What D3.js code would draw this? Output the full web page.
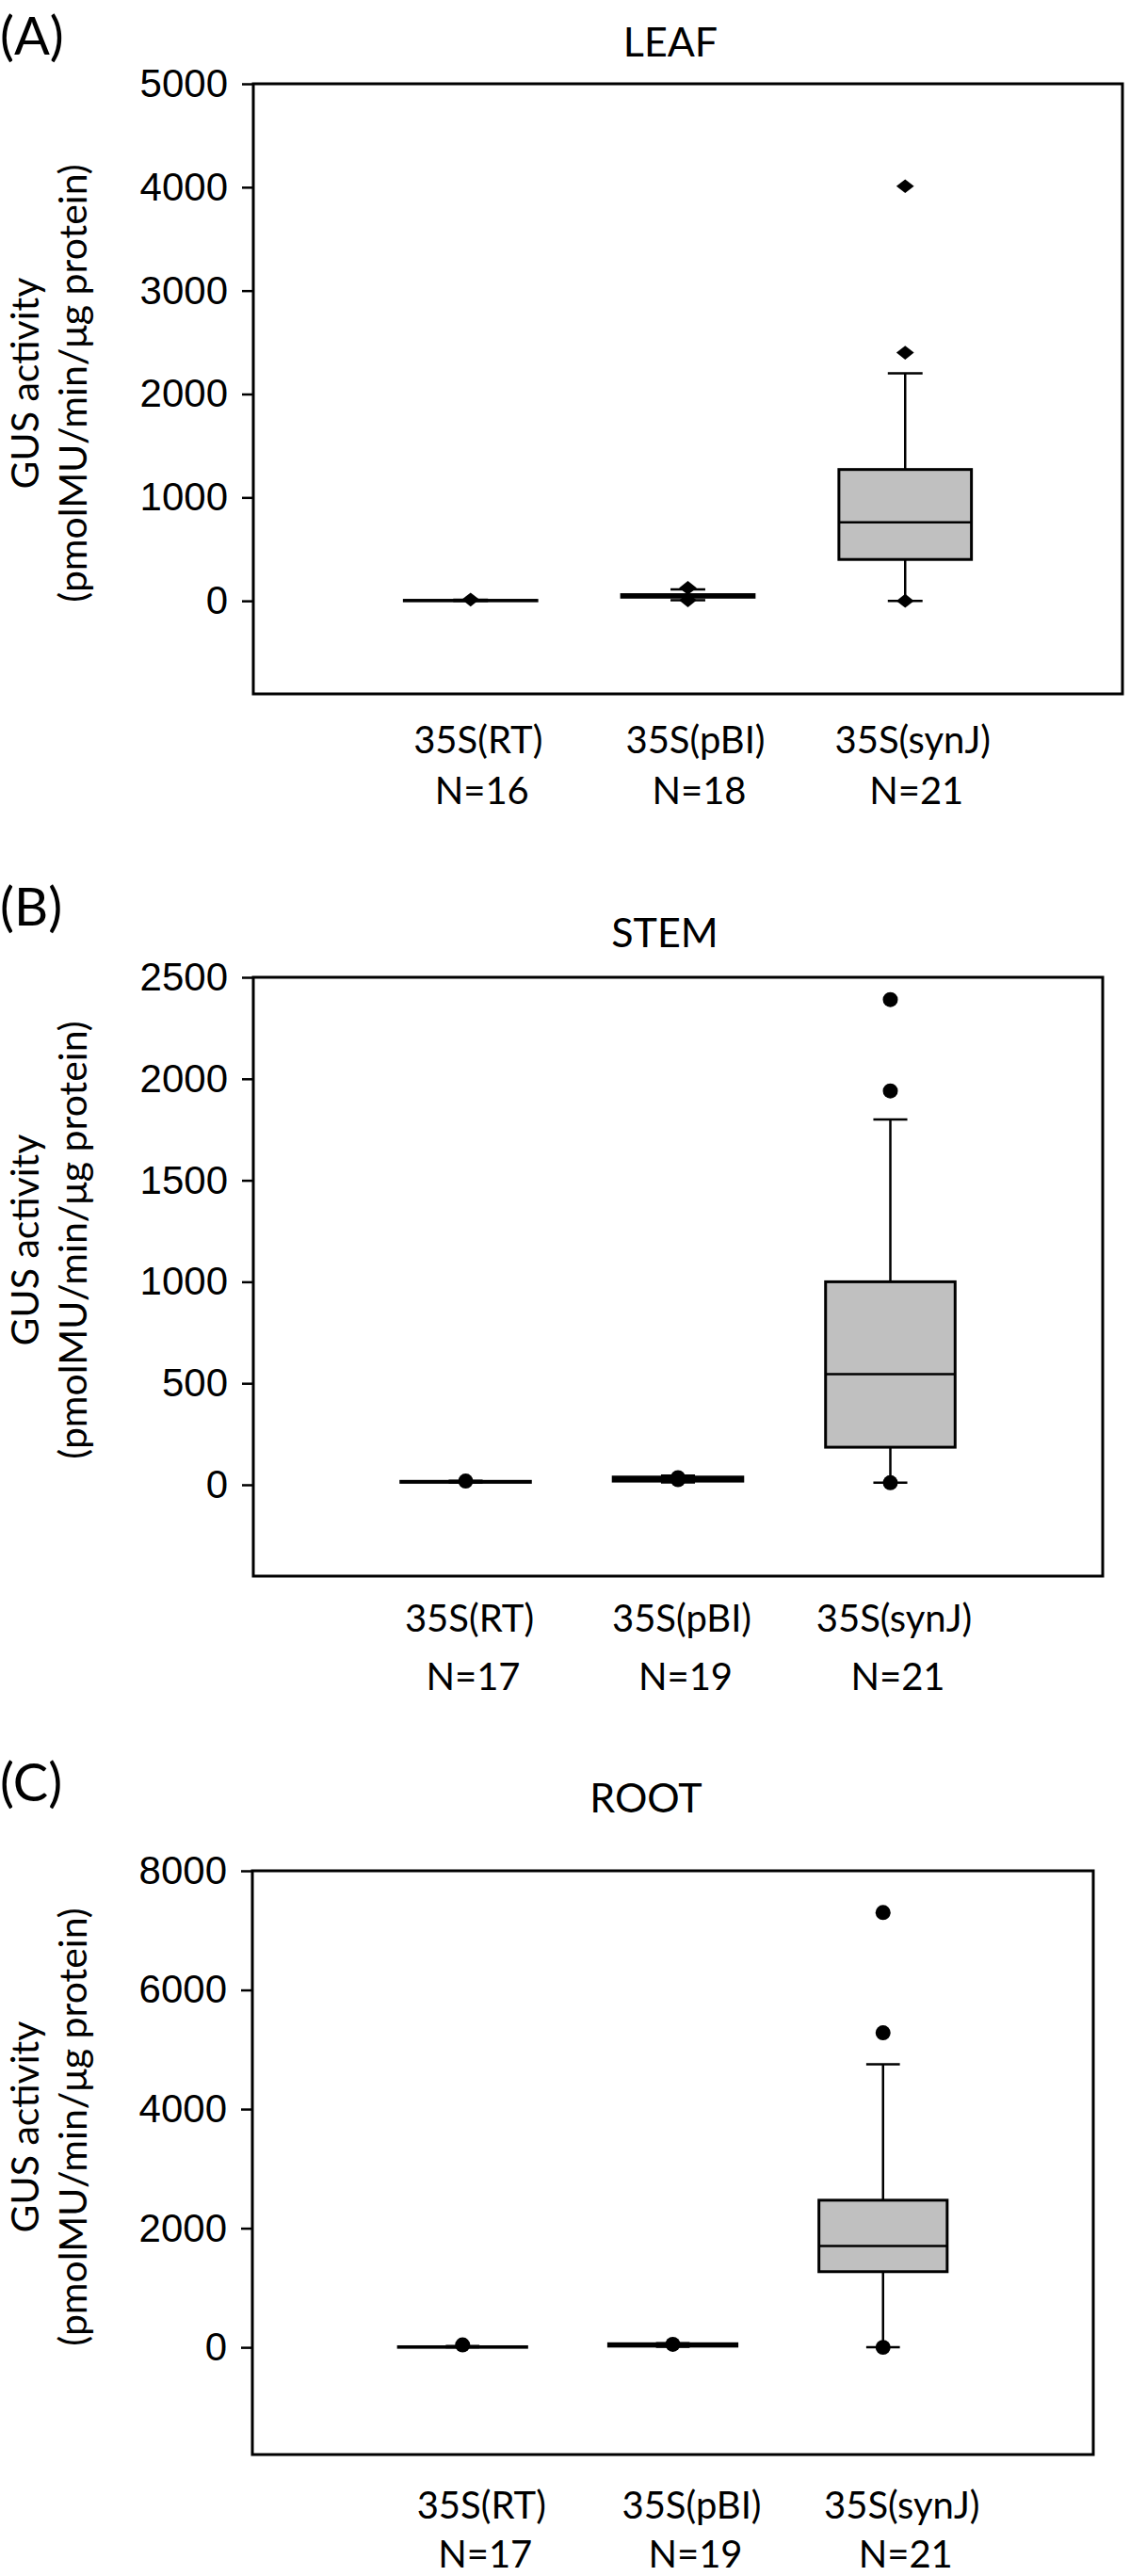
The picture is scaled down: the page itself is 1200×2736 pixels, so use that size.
<!DOCTYPE html>
<html><head><meta charset="utf-8">
<script src="https://cdn.jsdelivr.net/npm/d3@7"></script>
<style>body{margin:0;background:#fff}</style>
</head><body><svg id="chart" width="1200" height="2736"></svg>
<script>
// ---------------- data ----------------
const panelLetters = ["(A)", "(B)", "(C)"];
const tissues = ["LEAF", "STEM", "ROOT"];
const constructs = ["35S(RT)", "35S(pBI)", "35S(synJ)"];
const sampleSizes = [[16, 18, 21], [17, 19, 21], [17, 19, 21]];
const yLabelLine1 = "GUS activity";
const yLabelLine2 = "(pmolMU/min/μg protein)";

const leafTicks = [0, 1000, 2000, 3000, 4000, 5000];
const stemTicks = [0, 500, 1000, 1500, 2000, 2500];
const rootTicks = [0, 2000, 4000, 6000, 8000];
const leafDomain = [-900, 5000];
const stemDomain = [-450, 2500];
const rootDomain = [-1800, 8000];

// [lower whisker, Q1, median, Q3, upper whisker] per construct
const leafBoxes = [[0, 0, 3, 5, 10], [5, 35, 48, 60, 110], [0, 400, 760, 1270, 2200]];
const stemBoxes = [[10, 12, 15, 17, 20], [12, 18, 28, 38, 45], [10, 185, 545, 1000, 1800]];
const rootBoxes = [[0, 0, 5, 10, 20], [10, 20, 35, 60, 70], [0, 1270, 1700, 2470, 4750]];
const leafOutliers = [[12], [125, 5], [4010, 2400, 0]];
const stemOutliers = [[18], [25, 35], [2390, 1940, 10]];
const rootOutliers = [[40], [50], [7300, 5280, 0]];

// wide diamond marker (as in the reference's leaf panel)
const wideDiamond = {
  draw(context, size) {
    const w = Math.sqrt(size) * 0.72, h = w * 0.78;
    context.moveTo(0, -h); context.lineTo(w, 0); context.lineTo(0, h); context.lineTo(-w, 0); context.closePath();
  }
};

// ---------------- layout ----------------
const panels = [
  {ticks: leafTicks, domain: leafDomain, boxes: leafBoxes, outliers: leafOutliers, marker: wideDiamond, markerSize: 170,
   left: 269, right: 1192, top: 89, bottom: 737, titleX: 712, titleY: 60, letterY: 58, ylabC: 407, lab1: 800, lab2: 854, labDx: 8},
  {ticks: stemTicks, domain: stemDomain, boxes: stemBoxes, outliers: stemOutliers, marker: d3.symbolCircle, markerSize: 200,
   left: 269, right: 1171, top: 1038, bottom: 1674, titleX: 706, titleY: 1006, letterY: 983, ylabC: 1317, lab1: 1733, lab2: 1795, labDx: 4},
  {ticks: rootTicks, domain: rootDomain, boxes: rootBoxes, outliers: rootOutliers, marker: d3.symbolCircle, markerSize: 200,
   left: 268, right: 1161, top: 1987, bottom: 2607, titleX: 686, titleY: 1925, letterY: 1913, ylabC: 2259, lab1: 2675, lab2: 2727, labDx: 20}
];

const svg = d3.select("#chart");
svg.append("rect").attr("width", 1200).attr("height", 2736).attr("fill", "#fff");
const textFont = "Lato, 'Open Sans', sans-serif";
const tickFont = "'Liberation Sans', Arial, sans-serif";

panels.forEach((P, pi) => {
  const g = svg.append("g");
  const y = d3.scaleLinear().domain(P.domain).range([P.bottom, P.top]);
  const x = d3.scaleLinear().domain([0, 4]).range([P.left, P.right]);

  g.append("text").attr("x", 0).attr("y", P.letterY)
    .attr("font-family", textFont).attr("font-size", 56).attr("fill", "#000")
    .text(panelLetters[pi]);
  g.append("text").attr("x", P.titleX).attr("y", P.titleY)
    .attr("text-anchor", "middle").attr("font-family", textFont).attr("font-size", 43).attr("fill", "#000")
    .text(tissues[pi]);

  g.append("text").attr("transform", `translate(41,${P.ylabC}) rotate(-90)`)
    .attr("text-anchor", "middle").attr("font-family", textFont).attr("font-size", 41).attr("fill", "#000")
    .text(yLabelLine1);
  g.append("text").attr("transform", `translate(92,${P.ylabC}) rotate(-90)`)
    .attr("text-anchor", "middle").attr("font-family", textFont).attr("font-size", 41).attr("fill", "#000")
    .text(yLabelLine2);

  const ax = g.append("g").attr("transform", `translate(${P.left},0)`)
    .call(d3.axisLeft(y).tickValues(P.ticks).tickFormat(d3.format("d")).tickSize(12).tickPadding(15).tickSizeOuter(0));
  ax.select(".domain").remove();
  ax.selectAll(".tick line").attr("stroke", "#000").attr("stroke-width", 2.5);
  ax.selectAll(".tick text").attr("font-family", tickFont).attr("font-size", 42).attr("fill", "#000");

  g.append("rect").attr("x", P.left).attr("y", P.top)
    .attr("width", P.right - P.left).attr("height", P.bottom - P.top)
    .attr("fill", "none").attr("stroke", "#000").attr("stroke-width", 3);

  const halfBox = x(0.305) - x(0);
  const halfCap = x(0.08) - x(0);

  P.boxes.forEach((b, i) => {
    const cx = x(i + 1);
    const [lo, q1, med, q3, hi] = b;
    const bg = g.append("g");
    bg.append("line").attr("x1", cx).attr("x2", cx).attr("y1", y(hi)).attr("y2", y(q3))
      .attr("stroke", "#000").attr("stroke-width", 2.5);
    bg.append("line").attr("x1", cx).attr("x2", cx).attr("y1", y(q1)).attr("y2", y(lo))
      .attr("stroke", "#000").attr("stroke-width", 2.5);
    bg.append("line").attr("x1", cx - halfCap).attr("x2", cx + halfCap).attr("y1", y(hi)).attr("y2", y(hi))
      .attr("stroke", "#000").attr("stroke-width", 2.5);
    bg.append("line").attr("x1", cx - halfCap).attr("x2", cx + halfCap).attr("y1", y(lo)).attr("y2", y(lo))
      .attr("stroke", "#000").attr("stroke-width", 2.5);
    bg.append("rect").attr("x", cx - halfBox).attr("width", 2 * halfBox)
      .attr("y", y(q3)).attr("height", y(q1) - y(q3))
      .attr("fill", "#c0c0c0").attr("stroke", "#000").attr("stroke-width", 3);
    bg.append("line").attr("x1", cx - halfBox).attr("x2", cx + halfBox).attr("y1", y(med)).attr("y2", y(med))
      .attr("stroke", "#000").attr("stroke-width", 2.5);
    const sym = d3.symbol().type(P.marker).size(P.markerSize);
    bg.selectAll("path.out").data(P.outliers[i]).join("path").attr("class", "out")
      .attr("transform", d => `translate(${cx},${y(d)})`).attr("d", sym()).attr("fill", "#000");

    g.append("text").attr("x", cx + P.labDx).attr("y", P.lab1).attr("text-anchor", "middle")
      .attr("font-family", textFont).attr("font-size", 40).attr("fill", "#000").text(constructs[i]);
    g.append("text").attr("x", cx + P.labDx + 4).attr("y", P.lab2).attr("text-anchor", "middle")
      .attr("font-family", textFont).attr("font-size", 40).attr("fill", "#000").text("N=" + sampleSizes[pi][i]);
  });
});
</script></body></html>
